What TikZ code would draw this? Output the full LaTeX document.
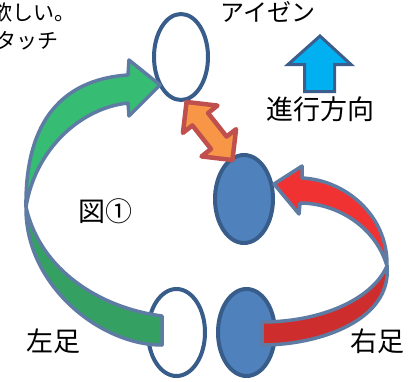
\documentclass[tikz,border=0pt]{standalone}
\usepackage{fontspec}
\newfontfamily\jp{Noto Sans CJK JP}
\definecolor{ellFill}{RGB}{79,129,189}
\definecolor{ellLine}{RGB}{56,93,138}
\definecolor{arrLine}{RGB}{94,124,163}
\definecolor{greenL}{RGB}{55,188,115}
\definecolor{greenD}{RGB}{52,160,98}
\definecolor{redL}{RGB}{240,50,50}
\definecolor{redD}{RGB}{205,45,45}
\definecolor{orangeF}{RGB}{247,150,70}
\definecolor{orangeL}{RGB}{192,80,77}
\definecolor{upFill}{RGB}{0,176,240}
\definecolor{upLine}{RGB}{59,94,140}
\begin{document}
\begin{tikzpicture}[x=1pt,y=-1pt,
  foot/.style={draw=ellLine,line width=4pt},
  curvarrow/.style={draw=arrLine,line width=3.5pt,line join=round},
  lbl/.style={inner sep=0pt,text=black},
  big/.style={lbl,font=\jp\fontsize{27pt}{29pt}\selectfont},
  mid/.style={lbl,font=\jp\fontsize{24pt}{26pt}\selectfont},
  small/.style={lbl,font=\jp\fontsize{21pt}{23pt}\selectfont}]
\path[use as bounding box] (0,0) rectangle (417,381);
\clip (0,0) rectangle (417,381);
% feet
\path[foot,fill=white] (181,57) ellipse [x radius=27pt,y radius=43pt];
\path[foot,fill=ellFill] (244,199) ellipse [x radius=29pt,y radius=44pt];
\path[foot,fill=white] (176.5,332.5) ellipse [x radius=28.5pt,y radius=43.5pt];
\path[foot,fill=ellFill] (246.5,332.5) ellipse [x radius=28.5pt,y radius=43.5pt];
% green curved arrow
\path[curvarrow,fill=greenD] (162,316) .. controls (100,308) and (40,270) .. (26,207)
  .. controls (25,285) and (100,345) .. (162,345) -- cycle;
\path[curvarrow,fill=greenL] (26,207) .. controls (25,130) and (55,80) .. (128,75)
  -- (129,60) -- (160,85) -- (129,116) -- (128,103)
  .. controls (80,108) and (35,150) .. (26,207) -- cycle;
% red curved arrow
\path[curvarrow,fill=redD] (262,322) .. controls (320,322) and (372,300) .. (387,266)
  .. controls (392,320) and (320,345) .. (262,345) -- cycle;
\path[curvarrow,fill=redL] (387,266) .. controls (388,215) and (345,180) .. (302,178)
  -- (302,166) -- (274,184) -- (299,214) -- (300,203)
  .. controls (335,203) and (375,225) .. (387,266) -- cycle;
% orange double arrow
\begin{scope}[shift={(209.5,131)},rotate=-51.7]
\path[draw=orangeL,fill=orangeF,line width=4.5pt,line join=round]
  (-37,0) -- (-15,-22) -- (-15,-10) -- (15,-10) -- (15,-22) -- (37,0)
  -- (15,22) -- (15,10) -- (-15,10) -- (-15,22) -- cycle;
\end{scope}
% up arrow
\path[draw=upLine,fill=upFill,line width=3pt]
  (320,36) -- (351,64.5) -- (334.5,64.5) -- (334.5,91.5) -- (304.5,91.5)
  -- (304.5,64.5) -- (288,64.5) -- cycle;
% texts
\node[small,anchor=west] (t1) at (-9,13) {欲しい。};
\node[small,anchor=west] (t2) at (-5,41) {タッチ};
\node[mid] (aizen) at (268,12) {アイゼン};
\node[big] (dir) at (320,109) {進行方向};
\node[big] (fig) at (105,211) {図①};
\node[big] (left) at (53,341) {左足};
\node[big] (right) at (377,341) {右足};
\end{tikzpicture}
\end{document}
